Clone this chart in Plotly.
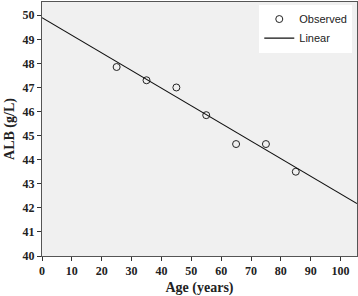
import plotly.graph_objects as go

age = [25, 35, 45, 55, 65, 75, 85]
alb = [47.85, 47.3, 47.0, 45.85, 44.65, 44.65, 43.5]
intercept = 49.9
slope = -0.0732
x_range = [0, 105.5]
line_y = [intercept + slope * x for x in x_range]

fig = go.Figure()
fig.add_trace(go.Scatter(x=age, y=alb, mode="markers", name="Observed",
                         marker=dict(symbol="circle-open", size=7, color="#222222",
                                     line=dict(width=1))))
fig.add_trace(go.Scatter(x=x_range, y=line_y, mode="lines", name="Linear",
                         line=dict(color="#111111", width=1.2)))

serif = "Liberation Serif, Times New Roman, serif"
tickfont = dict(family=serif, size=12, color="#222", weight="bold")
titlefont = dict(family=serif, size=14, color="#222", weight="bold")
fig.update_layout(
    width=358, height=296,
    margin=dict(l=42, r=1, t=2, b=40, autoexpand=False),
    paper_bgcolor="white", plot_bgcolor="#f0f0f0",
    showlegend=True,
    legend=dict(x=0.985, y=0.99, xanchor="right", yanchor="top",
                bgcolor="white", font=dict(family="Liberation Sans, Arial, sans-serif", size=11, color="#222"),
                tracegroupgap=0, itemwidth=30),
    xaxis=dict(range=x_range, tickvals=list(range(0, 101, 10)), ticks="outside", ticklen=4,
               tickcolor="#333", showgrid=False, zeroline=False, showline=True, linecolor="#555",
               mirror=True, linewidth=1, automargin=False,
               tickfont=tickfont,
               title=dict(text="Age (years)", font=titlefont, standoff=4)),
    yaxis=dict(range=[40, 50.55], tickvals=list(range(40, 51)), ticks="outside", ticklen=4,
               tickcolor="#333", showgrid=False, zeroline=False, showline=True, linecolor="#555",
               mirror=True, linewidth=1, automargin=False,
               tickfont=tickfont,
               title=dict(text="ALB (g/L)", font=titlefont, standoff=4)),
)
fig.write_html("out.html", config={"displayModeBar": False},
               post_script="document.body.style.margin='0';")
